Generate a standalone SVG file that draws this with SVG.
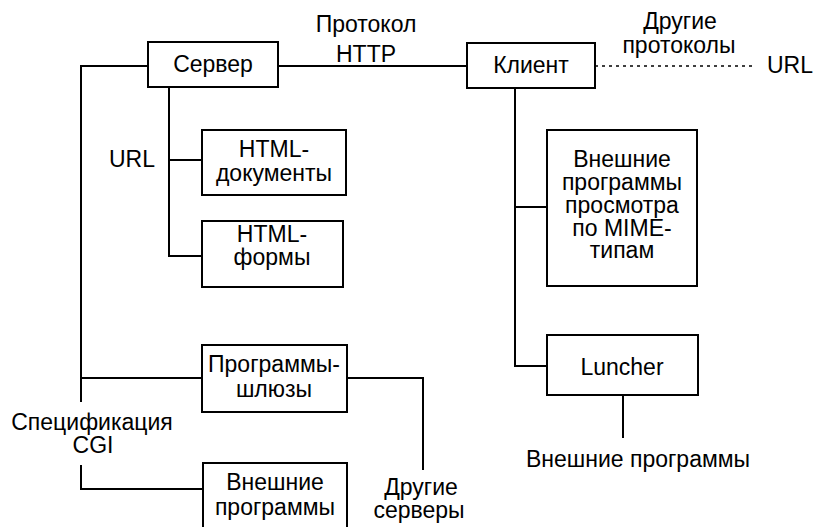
<svg xmlns="http://www.w3.org/2000/svg" width="820" height="527" viewBox="0 0 820 527">
<style>
.box{fill:#fff;stroke:#000;stroke-width:2}
.ln{fill:none;stroke:#000;stroke-width:2}
.dot{fill:none;stroke:#000;stroke-width:1.5;stroke-dasharray:3 4}
text{font-family:"Liberation Sans",Arial,sans-serif;font-size:23px;fill:#000;text-anchor:middle}
</style>
<rect width="820" height="527" fill="#fff"/>
<g id="connectors">
<polyline class="ln" points="148,66 81,66 81,402"/>
<polyline class="ln" points="81,378 203,378"/>
<polyline class="ln" points="81,465 81,489 203,489"/>
<polyline class="ln" points="169,87 169,256 202,256"/>
<line class="ln" x1="169" y1="160" x2="202" y2="160"/>
<line class="ln" x1="278" y1="66" x2="467" y2="66"/>
<line class="dot" x1="595" y1="66" x2="756" y2="66"/>
<polyline class="ln" points="515,88 515,366 547,366"/>
<line class="ln" x1="515" y1="207" x2="547" y2="207"/>
<line class="ln" x1="623" y1="395" x2="623" y2="438"/>
<polyline class="ln" points="347,378 423,378 423,470"/>
</g>
<g id="labels">
<text x="366" y="32">Протокол</text>
<text x="366" y="62">HTTP</text>
<text x="680" y="29">Другие</text>
<text x="679" y="53">протоколы</text>
<text x="790" y="73">URL</text>
<text x="132" y="167">URL</text>
<text x="92" y="430">Спецификация</text>
<text x="93" y="453">CGI</text>
<text x="421" y="495">Другие</text>
<text x="419" y="518">серверы</text>
<text x="638" y="467">Внешние программы</text>
</g>
<g id="server"><rect class="box" x="148" y="42" width="130" height="45"/><text x="213" y="72">Сервер</text></g>
<g id="client"><rect class="box" x="467" y="43" width="128" height="45"/><text x="531" y="73">Клиент</text></g>
<g id="html-docs"><rect class="box" x="202" y="130" width="144" height="65"/><text x="274" y="157">HTML-</text><text x="274" y="181">документы</text></g>
<g id="html-forms"><rect class="box" x="202" y="221" width="141" height="66"/><text x="272" y="242">HTML-</text><text x="272" y="265">формы</text></g>
<g id="mime"><rect class="box" x="547" y="130" width="150" height="156"/><text x="622" y="167">Внешние</text><text x="622" y="190">программы</text><text x="622" y="213">просмотра</text><text x="622" y="236">по MIME-</text><text x="622" y="258">типам</text></g>
<g id="luncher"><rect class="box" x="547" y="335" width="151" height="60"/><text x="622" y="375">Luncher</text></g>
<g id="gateways"><rect class="box" x="202" y="345" width="145" height="67"/><text x="274" y="372">Программы-</text><text x="274" y="397">шлюзы</text></g>
<g id="ext-programs"><rect class="box" x="203" y="463" width="144" height="70"/><text x="275" y="490">Внешние</text><text x="275" y="515">программы</text></g>
</svg>
